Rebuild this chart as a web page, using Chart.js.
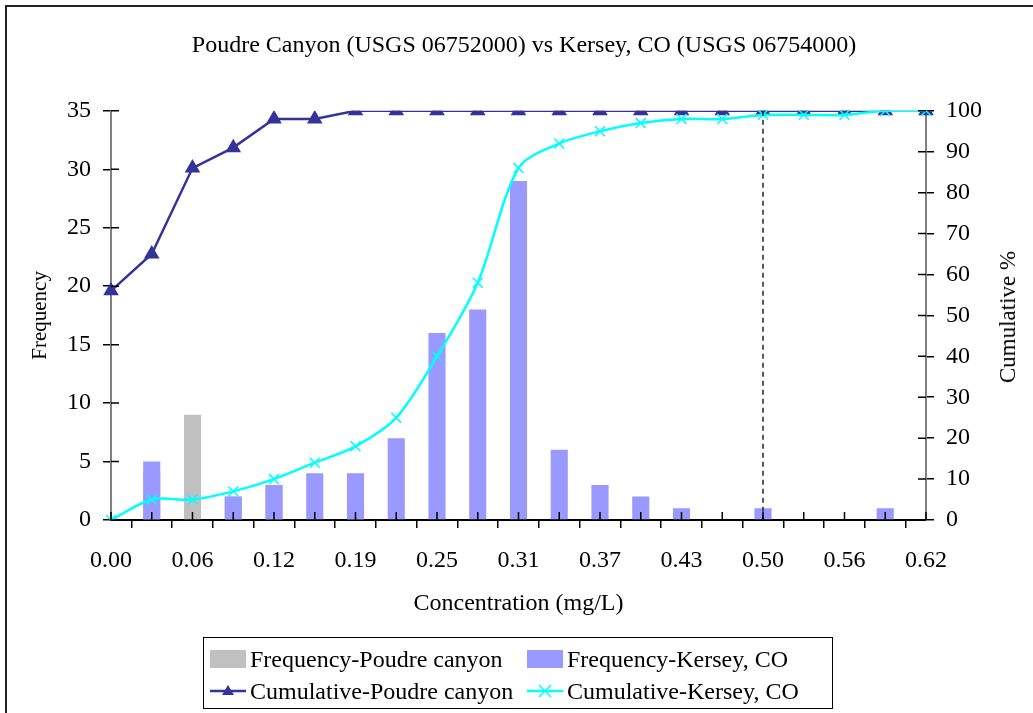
<!DOCTYPE html>
<html>
<head>
<meta charset="utf-8">
<script src="https://cdn.jsdelivr.net/npm/chart.js@4.4.0/dist/chart.umd.min.js"></script>
<style>
  html, body { margin: 0; padding: 0; background: #fff; overflow: hidden; }
  #wrap { position: relative; width: 1033px; height: 713px; font-family: "Liberation Serif", "Times New Roman", serif; }
  #frame { position: absolute; left: 5px; top: 5px; width: 1040px; height: 720px; border: 2px solid #222; box-sizing: border-box; }
  canvas { position: absolute; left: 0; top: 0; }
  #rtitle { position: absolute; left: 1008px; top: 317px; transform: translate(-50%, -50%) rotate(-90deg); font-size: 23px; white-space: nowrap; color: #000; }
  #legend { position: absolute; left: 203px; top: 637px; width: 630px; height: 72px; border: 1.5px solid #000; box-sizing: border-box; font-size: 24px; color: #000; }
  .item { position: absolute; display: flex; align-items: center; height: 30px; white-space: nowrap; }
  .item svg { margin-right: 4px; }
</style>
</head>
<body>
<div id="wrap">
  <div id="frame"></div>
  <canvas id="c" width="1033" height="713"></canvas>
  <div id="rtitle">Cumulative %</div>
  <div id="legend">
    <div class="item" style="left:6px; top:6px;"><svg width="36" height="18"><rect x="0" y="0" width="36" height="18" fill="#C0C0C0"/></svg><span>Frequency-Poudre canyon</span></div>
    <div class="item" style="left:323px; top:6px;"><svg width="36" height="18"><rect x="0" y="0" width="36" height="18" fill="#9999FF"/></svg><span>Frequency-Kersey, CO</span></div>
    <div class="item" style="left:6px; top:38px;"><svg width="36" height="18"><line x1="0" y1="9" x2="36" y2="9" stroke="#333399" stroke-width="2.5"/><polygon points="18,3 24,13 12,13" fill="#333399"/></svg><span>Cumulative-Poudre canyon</span></div>
    <div class="item" style="left:323px; top:38px;"><svg width="36" height="18"><line x1="0" y1="9" x2="36" y2="9" stroke="#00FFFF" stroke-width="2.5"/><line x1="12" y1="3" x2="24" y2="15" stroke="#00FFFF" stroke-width="1.5"/><line x1="24" y1="3" x2="12" y2="15" stroke="#00FFFF" stroke-width="1.5"/></svg><span>Cumulative-Kersey, CO</span></div>
  </div>
</div>
<script>
// ---- data ----
const categories = ['0.00','0.03','0.06','0.09','0.12','0.16','0.19','0.22','0.25','0.28','0.31','0.34','0.37','0.40','0.43','0.47','0.50','0.53','0.56','0.59','0.62'];
const freqPoudre   = [0, 4, 9, 2, 3, 0, 1, 0, 0, 0, 0, 0, 0, 0, 0, 0, 0, 0, 0, 0, 0];
const freqKersey   = [0, 5, 0, 2, 3, 4, 4, 7, 16, 18, 29, 6, 3, 2, 1, 0, 1, 0, 0, 1, 0];
const cumPoudre    = [56, 65, 86, 91, 98, 98, 100, 100, 100, 100, 100, 100, 100, 100, 100, 100, 100, 100, 100, 100, 100];
const cumKersey    = [0, 5, 5, 7, 10, 14, 18, 25, 40, 58, 86, 92, 95, 97, 98, 98, 99, 99, 99, 100, 100];
const refLineCategory = '0.50';
const titleText = 'Poudre Canyon (USGS 06752000) vs Kersey, CO (USGS 06754000)';

const FONT = '"Liberation Serif", "Times New Roman", serif';

const crossTicks = {
  id: 'crossTicks',
  afterDatasetsDraw(chart) {
    const ctx = chart.ctx;
    const {x, y, y1} = chart.scales;
    const ca = chart.chartArea;
    ctx.save();
    ctx.strokeStyle = '#000';
    ctx.lineWidth = 1.5;
    // reference dashed line
    const idx = categories.indexOf(refLineCategory);
    const px = x.getPixelForValue(idx);
    ctx.save();
    ctx.setLineDash([5, 4]);
    ctx.lineWidth = 1.5;
    ctx.strokeStyle = '#222';
    ctx.beginPath();
    ctx.moveTo(px, y1.getPixelForValue(100));
    ctx.lineTo(px, y1.getPixelForValue(0));
    ctx.stroke();
    ctx.restore();
    ctx.beginPath();
    for (let i = 0; i < x.ticks.length; i++) {
      const tx = x.getPixelForTick(i);
      ctx.moveTo(tx, ca.bottom - 8); ctx.lineTo(tx, ca.bottom);
    }
    for (let i = 0; i < y.ticks.length; i++) {
      const ty = y.getPixelForTick(i);
      ctx.moveTo(ca.left, ty); ctx.lineTo(ca.left + 8, ty);
    }
    for (let i = 0; i < y1.ticks.length; i++) {
      const ty = y1.getPixelForTick(i);
      ctx.moveTo(ca.right - 8, ty); ctx.lineTo(ca.right, ty);
    }
    ctx.stroke();
    ctx.restore();
  }
};

new Chart(document.getElementById('c'), {
  type: 'bar',
  data: {
    labels: categories,
    datasets: [
      { type: 'line', label: 'Cumulative-Kersey, CO', data: cumKersey, yAxisID: 'y1', borderColor: '#00FFFF', backgroundColor: '#00FFFF', borderWidth: 2.5, tension: 0.3, pointStyle: 'crossRot', pointRadius: 7, pointBorderWidth: 1.5, pointBorderColor: '#00FFFF', order: 1 },
      { type: 'line', label: 'Cumulative-Poudre canyon', data: cumPoudre, yAxisID: 'y1', borderColor: '#333399', backgroundColor: '#333399', borderWidth: 2.5, tension: 0, pointStyle: 'triangle', pointRadius: 6.5, order: 2 },
      { type: 'bar', label: 'Frequency-Kersey, CO', data: freqKersey, yAxisID: 'y', backgroundColor: '#9999FF', grouped: false, categoryPercentage: 1, barPercentage: 0.42, order: 3 },
      { type: 'bar', label: 'Frequency-Poudre canyon', data: freqPoudre, yAxisID: 'y', backgroundColor: '#C0C0C0', grouped: false, categoryPercentage: 1, barPercentage: 0.42, order: 4 }
    ]
  },
  options: {
    responsive: false,
    animation: false,
    layout: { padding: { left: 15, right: 0, top: 0, bottom: 0 } },
    plugins: {
      legend: { display: false },
      tooltip: { enabled: false },
      title: { display: true, text: titleText, color: '#000', font: { family: FONT, size: 24, weight: 'normal' }, padding: { top: 31, bottom: 51 } }
    },
    scales: {
      x: {
        offset: false,
        grid: { display: true, drawOnChartArea: false, drawTicks: true, tickLength: 8, color: '#000', lineWidth: 1.5 },
        border: { display: true, color: '#000', width: 2 },
        ticks: {
          autoSkip: false, maxRotation: 0, color: '#000', padding: 18,
          font: { family: FONT, size: 24 },
          callback: function (v, i) { return i % 2 === 0 ? this.getLabelForValue(v) : ''; }
        },
        title: { display: true, text: 'Concentration (mg/L)', color: '#000', font: { family: FONT, size: 24 }, padding: { top: 0, bottom: 95 } },
        afterFit(s) { s.height = 193; }
      },
      y: {
        position: 'left', min: 0, max: 35,
        grid: { display: true, drawOnChartArea: false, drawTicks: true, tickLength: 8, color: '#000', lineWidth: 1.5 },
        border: { display: true, color: '#808080', width: 2 },
        ticks: { stepSize: 5, color: '#000', padding: 12, font: { family: FONT, size: 24 } },
        title: { display: true, text: 'Frequency', color: '#000', font: { family: FONT, size: 21 }, padding: { top: 13, bottom: 0 } },
        afterFit(s) { s.width = 96; }
      },
      y1: {
        position: 'right', min: 0, max: 100,
        grid: { display: true, drawOnChartArea: false, drawTicks: true, tickLength: 8, color: '#000', lineWidth: 1.5 },
        border: { display: true, color: '#808080', width: 2 },
        ticks: { stepSize: 10, color: '#000', padding: 12, font: { family: FONT, size: 24 } },
        afterFit(s) { s.width = 107; }
      }
    }
  },
  plugins: [crossTicks]
});
</script>
</body>
</html>
